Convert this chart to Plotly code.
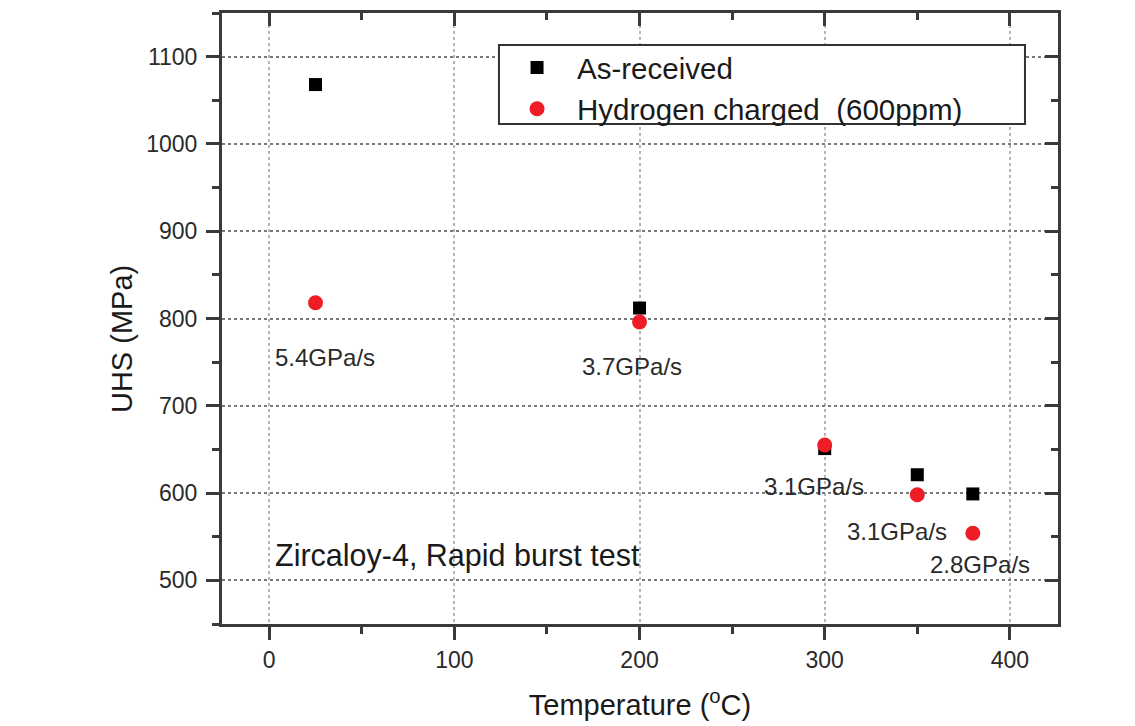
import plotly.graph_objects as go

# ---- data ----
temperature = [25, 200, 300, 350, 380]
as_received = [1068, 812, 651, 621, 599]
hydrogen_charged = [818, 796, 655, 598, 554]

rate_labels = ["5.4GPa/s", "3.7GPa/s", "3.1GPa/s", "3.1GPa/s", "2.8GPa/s"]
rate_label_x = [30, 196, 294, 339, 384]
rate_label_y = [755, 745, 608, 556, 518]

x_ticks = [0, 100, 200, 300, 400]
y_ticks = [500, 600, 700, 800, 900, 1000, 1100]
x_range = [-25.5, 426]
y_range = [450, 1150]

FONT = "Liberation Sans, Arial, sans-serif"
AXIS_COLOR = "#3a3a3a"

fig = go.Figure()

fig.add_trace(go.Scatter(
    x=temperature, y=as_received, mode="markers", name="As-received",
    marker=dict(symbol="square", size=13, color="black"),
))
fig.add_trace(go.Scatter(
    x=temperature, y=hydrogen_charged, mode="markers",
    name="Hydrogen charged  (600ppm)",
    marker=dict(symbol="circle", size=15, color="#ee1c24"),
))
# invisible trace to host the mirrored (top/right) axes
fig.add_trace(go.Scatter(x=[None], y=[None], xaxis="x2", yaxis="y2",
                         mode="markers", showlegend=False, hoverinfo="skip"))

for txt, lx, ly in zip(rate_labels, rate_label_x, rate_label_y):
    fig.add_annotation(x=lx, y=ly, xref="x", yref="y", text=txt,
                       showarrow=False, xanchor="center", yanchor="middle",
                       font=dict(family=FONT, size=24, color="#2a2a2a"))

fig.add_annotation(x=101.5, y=529, xref="x", yref="y",
                   text="Zircaloy-4, Rapid burst test", showarrow=False,
                   xanchor="center", yanchor="middle",
                   font=dict(family=FONT, size=30.5, color="#1a1a1a"))

# y-axis title
fig.add_annotation(x=-0.1196, y=0.4664, xref="paper", yref="paper",
                   text="UHS (MPa)", textangle=-90, showarrow=False,
                   xanchor="center", yanchor="middle",
                   font=dict(family=FONT, size=29, color="#1a1a1a"))

# legend frame
fig.add_shape(type="rect", xref="paper", yref="paper",
              x0=0.3313, x1=0.9605, y0=0.8183, y1=0.9476,
              line=dict(color="#333333", width=2), fillcolor="white",
              layer="above")

common_axis = dict(
    showline=True, linecolor=AXIS_COLOR, linewidth=3,
    ticks="outside", ticklen=13, tickwidth=3, tickcolor=AXIS_COLOR,
    tickfont=dict(family=FONT, size=23, color="#2a2a2a"),
    zeroline=False, automargin=False,
)

fig.update_layout(
    width=1135, height=726,
    margin=dict(l=222, r=77, t=13, b=102),
    paper_bgcolor="white", plot_bgcolor="white",
    font=dict(family=FONT, color="#1a1a1a"),
    xaxis=dict(
        range=x_range, tickvals=x_ticks,
        showgrid=True, gridcolor="#b5b5b5", gridwidth=1.5, griddash="dot",
        minor=dict(dtick=50, tick0=0, ticks="outside", ticklen=7,
                   tickwidth=3, tickcolor=AXIS_COLOR, showgrid=False),
        title=dict(text="Temperature (<sup>o</sup>C)", standoff=24,
                   font=dict(family=FONT, size=29, color="#1a1a1a")),
        **common_axis,
    ),
    yaxis=dict(
        range=y_range, tickvals=y_ticks, ticklabelstandoff=4,
        showgrid=True, gridcolor="#7a7a7a", gridwidth=1.5, griddash="dot",
        minor=dict(dtick=50, tick0=0, ticks="outside", ticklen=7,
                   tickwidth=3, tickcolor=AXIS_COLOR, showgrid=False),
        **common_axis,
    ),
    xaxis2=dict(
        overlaying="x", side="top", anchor="y", range=x_range,
        tickvals=x_ticks, showticklabels=False, showgrid=False,
        showline=True, linecolor=AXIS_COLOR, linewidth=3,
        ticks="inside", ticklen=13, tickwidth=3, tickcolor=AXIS_COLOR,
        minor=dict(dtick=50, tick0=0, ticks="inside", ticklen=7,
                   tickwidth=3, tickcolor=AXIS_COLOR, showgrid=False),
        zeroline=False, automargin=False,
    ),
    yaxis2=dict(
        overlaying="y", side="right", anchor="x", range=y_range,
        tickvals=y_ticks, showticklabels=False, showgrid=False,
        showline=True, linecolor=AXIS_COLOR, linewidth=3,
        ticks="inside", ticklen=13, tickwidth=3, tickcolor=AXIS_COLOR,
        minor=dict(dtick=50, tick0=0, ticks="inside", ticklen=7,
                   tickwidth=3, tickcolor=AXIS_COLOR, showgrid=False),
        zeroline=False, automargin=False,
    ),
    legend=dict(
        x=0.329, y=0.953, xanchor="left", yanchor="top",
        bgcolor="rgba(0,0,0,0)", borderwidth=0,
        font=dict(family=FONT, size=29.5, color="#1a1a1a"),
        itemwidth=70, tracegroupgap=0,
    ),
    showlegend=True,
)

fig.write_html("out.html")
